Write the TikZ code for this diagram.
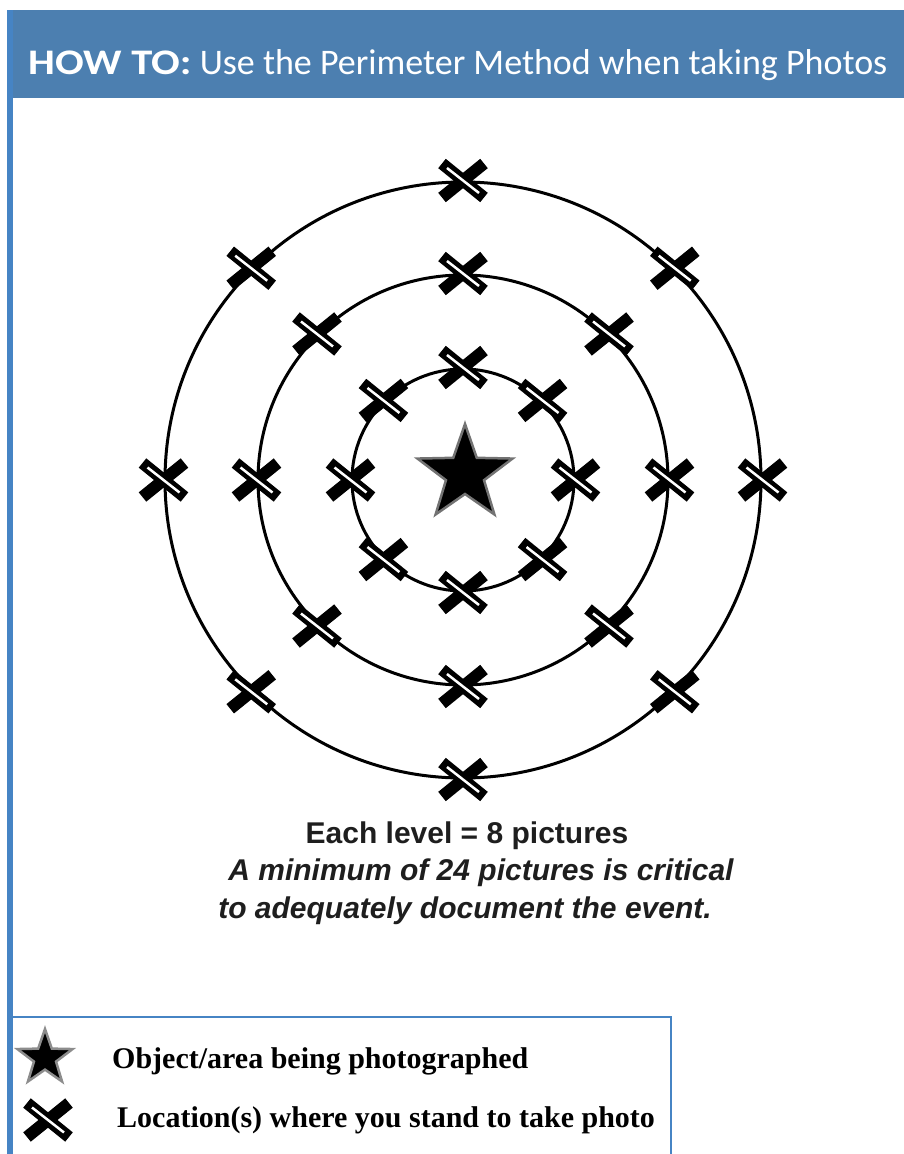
\documentclass[tikz,border=0pt]{standalone}
\usepackage{fontspec}
\usepackage{graphicx}
\usetikzlibrary{shapes.geometric,positioning}
\newfontfamily\headfont{Carlito}
\newfontfamily\notefont{Liberation Sans}
\newfontfamily\legendfont{Liberation Serif}
\definecolor{headblue}{RGB}{76,127,176}
\definecolor{edgeblue}{RGB}{70,132,196}
\definecolor{inkgrey}{RGB}{30,30,30}
\tikzset{
  ring/.style={draw=black, line width=3pt, circle, inner sep=0pt, minimum size=#1},
  target/.style={star, star points=5, star point ratio=2.5, fill=black, draw=black!55,
    line width=2.5pt, inner sep=0pt},
  note/.style={text=inkgrey, inner sep=0pt, anchor=base,
    font=\notefont\bfseries\fontsize{30}{36}\selectfont},
  legende/.style={text=black, inner sep=0pt, anchor=base west,
    font=\legendfont\bfseries\fontsize{30}{36}\selectfont},
  spot/.pic={
    \draw[line width=12pt, black] (-21,17) -- (21,-17);
    \draw[line width=12pt, black] (-21,-17) -- (21,17);
    \draw[line width=2.5pt, white] (-16,-12.5) -- (16,12.5);
  },
}

\begin{document}
\begin{tikzpicture}[x=1pt, y=-1pt]
  \useasboundingbox (0,0) rectangle (904,1154);
  % bandeau
  \fill[headblue] (8,10) rectangle (904,98);
  \fill[edgeblue] (7,10) rectangle (13,1154);
  \node[anchor=base west, text=white, inner sep=0pt, font=\headfont\fontsize{36}{40}\selectfont] (titre) at (28,74)
    {\scalebox{1.18}[1]{\bfseries HOW TO:} Use the Perimeter Method when taking Photos};
  % cercles
  \node[ring=596pt] (outer) at (463,480) {};
  \node[ring=410pt] (middle) at (463,480) {};
  \node[ring=222pt] (inner) at (463,480) {};
  \foreach \a in {0,45,...,315} {
    \pic at (outer.\a) {spot};
    \pic at (middle.\a) {spot};
    \pic at (inner.\a) {spot};
  }
  \node[target, minimum size=100pt] (objet) at (465,474) {};
  % texte
  \node[note] (level) at (467,843) {Each level = 8 pictures};
  \node[note] (minimum) at (481,880) {\itshape A minimum of 24 pictures is critical};
  \node[note] (event) at (465,918) {\itshape to adequately document the event.};
  % legende
  \draw[edgeblue, line width=1.5pt] (13,1017) -| (671,1154);
  \node[target, minimum size=58pt, draw=black!45] (legstar) at (45,1058) {};
  \pic at (48,1120) {spot};
  \node[legende] (legobj) at (112,1068) {Object/area being photographed};
  \node[legende] (legloc) at (117,1127) {Location(s) where you stand to take photo};
\end{tikzpicture}
\end{document}
